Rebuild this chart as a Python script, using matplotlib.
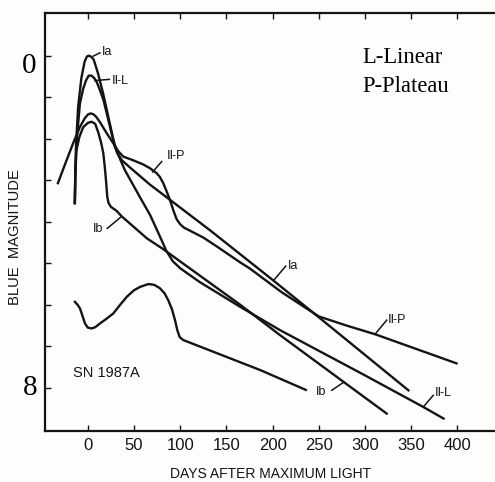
import matplotlib
matplotlib.use("Agg")
import matplotlib.pyplot as plt

# light curves: days after max light / blue magnitude
IA_DAYS = [-14, -13.6, -12.8, -10.5, -7, -3.5, -1, 1.5, 4, 6.5, 11, 16.5, 23, 28, 32, 37, 45,
           67, 132, 200, 250, 347]
IA_MAG = [3.55, 2.9, 2.2, 1.25, 0.55, 0.15, 0.02, 0.0, 0.03, 0.1, 0.42, 0.9, 1.55, 2.05, 2.35,
          2.52, 2.68, 3.1, 4.2, 5.4, 6.3, 8.06]

IIL_DAYS = [-14, -13.5, -12, -8.5, -5, -2, 1, 4, 7, 9.6, 13, 17, 24, 29.4, 40, 55, 67.5, 78,
            85, 92, 100, 121, 165, 208, 300, 363, 385]
IIL_MAG = [3.55, 2.9, 2.05, 1.15, 0.8, 0.6, 0.48, 0.48, 0.54, 0.63, 0.82, 1.07, 1.71, 2.2,
           2.75, 3.35, 3.84, 4.35, 4.7, 4.95, 5.12, 5.45, 6.05, 6.61, 7.7, 8.46, 8.74]

IB_DAYS = [-14, -13.5, -12.5, -9, -4.9, 0, 4, 8, 11.4, 14.5, 16.8, 18.5, 19.7, 21.1, 22.5, 25,
           31.3, 36.7, 64, 81, 165, 208, 277, 323.5]
IB_MAG = [3.55, 2.9, 2.3, 1.95, 1.72, 1.62, 1.59, 1.64, 1.85, 2.1, 2.35, 2.7, 3.0, 3.4, 3.55,
          3.64, 3.74, 3.87, 4.4, 4.65, 6.0, 6.73, 7.86, 8.62]

IIP_DAYS = [-32.3, -24, -15.7, -8.4, -3, 0, 3, 6, 9, 13.2, 20, 27.6, 33, 38.4, 49.2, 60, 67.3,
            74.5, 78, 81.7, 85, 89, 93, 96.2, 100, 104, 125, 140, 165, 175, 210, 250, 280, 311,
            399]
IIP_MAG = [3.07, 2.58, 2.1, 1.71, 1.5, 1.42, 1.39, 1.41, 1.47, 1.6, 1.85, 2.11, 2.3, 2.43,
           2.52, 2.62, 2.71, 2.83, 2.92, 3.07, 3.25, 3.48, 3.75, 3.94, 4.06, 4.14, 4.38, 4.6,
           4.98, 5.12, 5.7, 6.28, 6.5, 6.71, 7.41]

SN87A_DAYS = [-13.9, -11, -8.4, -5.5, -3, 0, 4.2, 8, 13.2, 20, 27.6, 35, 42.1, 50, 56.5, 65.5,
              72, 78, 83, 87.1, 91, 94.4, 97, 99.5, 103.4, 186.4, 236]
SN87A_MAG = [5.93, 6.0, 6.09, 6.28, 6.45, 6.55, 6.57, 6.54, 6.45, 6.34, 6.21, 6.0, 5.81, 5.65,
             5.57, 5.5, 5.52, 5.6, 5.72, 5.89, 6.1, 6.37, 6.62, 6.78, 6.85, 7.57, 8.05]

X_TICKS = [0, 50, 100, 150, 200, 250, 300, 350, 400]
Y_TICKS = [0, 1, 2, 3, 4, 5, 6, 7, 8]

# curve labels: text, point on curve, end of leader, text anchor (left, middle)
LABELS = [
    ("Ia", (6, 0.01), (13.2, -0.07), (15.0, -0.09)),
    ("Ⅱ-L", (7.8, 0.60), (23.3, 0.57), (25.9, 0.61)),
    ("Ⅱ-P", (70.2, 2.80), (80, 2.55), (85.4, 2.42)),
    ("Ib", (35.6, 3.89), (21.1, 4.16), (6.0, 4.18)),
    ("Ia", (200.8, 5.42), (214.2, 5.07), (216.5, 5.07)),
    ("Ⅱ-P", (310.8, 6.71), (323.5, 6.37), (325.0, 6.37)),
    ("Ⅱ-L", (363.1, 8.46), (373.9, 8.18), (375.8, 8.12)),
    ("Ib", (277.3, 7.86), (264.0, 8.06), (247.0, 8.10)),
]

SANS = ["Liberation Sans", "DejaVu Sans"]
SERIF = ["Liberation Serif", "DejaVu Serif"]
INK = "#141414"


def main():
    fig = plt.figure(figsize=(4.95, 4.82), dpi=100, facecolor="#fdfdfb")
    ax = fig.add_axes([0.0909, 0.1058, 0.9091, 0.8679])
    ax.set_facecolor("#fdfdfb")

    for days, mag in [(IA_DAYS, IA_MAG), (IIL_DAYS, IIL_MAG), (IB_DAYS, IB_MAG),
                      (IIP_DAYS, IIP_MAG), (SN87A_DAYS, SN87A_MAG)]:
        ax.plot(days, mag, color=INK, lw=1.7, solid_joinstyle="round")

    for text, (x0, y0), (x1, y1), (tx, ty) in LABELS:
        ax.plot([x0, x1], [y0, y1], color=INK, lw=1.1)
        ax.text(tx, ty, text, family=SANS, fontsize=9, ha="left", va="center", color=INK)

    ax.text(-16.4, 7.735, "SN 1987A", family=SANS, fontsize=10.5, va="baseline", color=INK)
    ax.text(297.5, 0.183, "L-Linear", family=SERIF, fontsize=16.3, va="baseline", color="black")
    ax.text(297.5, 0.867, "P-Plateau", family=SERIF, fontsize=16.3, va="baseline", color="black")

    # big serif magnitude labels pasted on the left
    ax.text(-63.6, 0.25, "0", family=SERIF, fontsize=21, ha="center", va="center",
            clip_on=False)
    ax.text(-62.6, 8.0, "8", family=SERIF, fontsize=21, ha="center", va="center",
            clip_on=False)

    ax.set_xlim(-46.3, 440.7)
    ax.set_ylim(9.04, -1.036)
    ax.set_xticks(X_TICKS)
    ax.set_xticklabels([str(t) for t in X_TICKS], family=SANS, fontsize=12, color=INK)
    ax.set_yticks(Y_TICKS)
    ax.set_yticklabels([])
    ax.tick_params(axis="x", direction="in", top=True, length=4, width=1, pad=5, color=INK)
    ax.tick_params(axis="y", direction="in", length=4, width=1, color=INK)

    ax.spines["right"].set_visible(False)
    for side in ["left", "top", "bottom"]:
        ax.spines[side].set_linewidth(1.6)
        ax.spines[side].set_color(INK)

    fig.text(0.547, 0.003, "DAYS AFTER MAXIMUM LIGHT", family=SANS, fontsize=10,
             ha="center", va="bottom", color=INK)
    fig.text(0.030, 0.508, "BLUE  MAGNITUDE", family=SANS,
             fontsize=10.6, rotation=90, ha="center", va="center", color=INK)

    fig.savefig("out.png", dpi=100, facecolor=fig.get_facecolor())
    plt.close(fig)


if __name__ == "__main__":
    main()
